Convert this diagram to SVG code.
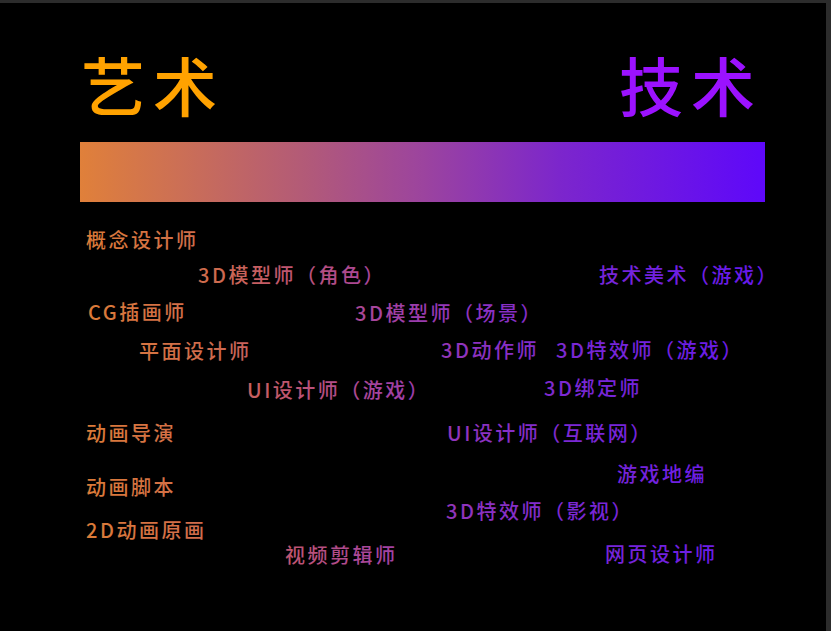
<svg xmlns="http://www.w3.org/2000/svg" width="831" height="631" viewBox="0 0 831 631">
<defs>
<linearGradient id="barGrad" gradientUnits="userSpaceOnUse" x1="80" y1="0" x2="765" y2="0">
<stop offset="0" stop-color="#E0803A"/>
<stop offset="0.33" stop-color="#B25A78"/>
<stop offset="0.5" stop-color="#9C449E"/>
<stop offset="0.7" stop-color="#7C26CC"/>
<stop offset="1" stop-color="#5E08FA"/>
</linearGradient>
<linearGradient id="textGrad" gradientUnits="userSpaceOnUse" x1="80" y1="0" x2="765" y2="0">
<stop offset="0" stop-color="#DC7C36"/>
<stop offset="0.2" stop-color="#CE6A4E"/>
<stop offset="0.3" stop-color="#C0566E"/>
<stop offset="0.42" stop-color="#A8469A"/>
<stop offset="0.55" stop-color="#9034BC"/>
<stop offset="0.72" stop-color="#7A28D4"/>
<stop offset="1" stop-color="#6418EE"/>
</linearGradient>
<style>
.title{font-family:"Noto Sans CJK SC","Noto Sans",sans-serif;font-size:64px;font-weight:500;letter-spacing:8px}
.lbl{font-family:"Noto Sans CJK SC","Noto Sans",sans-serif;font-size:20px;font-weight:500;letter-spacing:2.5px;fill:url(#textGrad)}
</style>
</defs>
<rect x="0" y="0" width="831" height="631" fill="#000"/>
<rect x="0" y="0" width="831" height="3" fill="#2c2c2c"/>
<rect x="826" y="0" width="5" height="631" fill="#2c2c2c"/>
<g id="header">
<text class="title" x="81" y="111" fill="#FFA200">艺术</text>
<text class="title" x="619" y="111" fill="#9B12FF">技术</text>
<rect x="80" y="142" width="685" height="60" fill="url(#barGrad)"/>
</g>
<g id="connectors"></g>
<g id="n1"><text class="lbl" x="86" y="248">概念设计师</text></g>
<g id="n2"><text class="lbl" x="198" y="283">3D模型师（角色）</text></g>
<g id="n3"><text class="lbl" x="599" y="283">技术美术（游戏）</text></g>
<g id="n4"><text class="lbl" x="88" y="320">CG插画师</text></g>
<g id="n5"><text class="lbl" x="355" y="321">3D模型师（场景）</text></g>
<g id="n6"><text class="lbl" x="139" y="359">平面设计师</text></g>
<g id="n7"><text class="lbl" x="441" y="358">3D动作师</text></g>
<g id="n8"><text class="lbl" x="556" y="358">3D特效师（游戏）</text></g>
<g id="n9"><text class="lbl" x="247" y="398">UI设计师（游戏）</text></g>
<g id="n10"><text class="lbl" x="544" y="396">3D绑定师</text></g>
<g id="n11"><text class="lbl" x="86" y="441">动画导演</text></g>
<g id="n12"><text class="lbl" x="447" y="441">UI设计师（互联网）</text></g>
<g id="n13"><text class="lbl" x="617" y="482">游戏地编</text></g>
<g id="n14"><text class="lbl" x="86" y="495">动画脚本</text></g>
<g id="n15"><text class="lbl" x="446" y="519">3D特效师（影视）</text></g>
<g id="n16"><text class="lbl" x="86" y="538">2D动画原画</text></g>
<g id="n17"><text class="lbl" x="285" y="563">视频剪辑师</text></g>
<g id="n18"><text class="lbl" x="605" y="562">网页设计师</text></g>
</svg>
